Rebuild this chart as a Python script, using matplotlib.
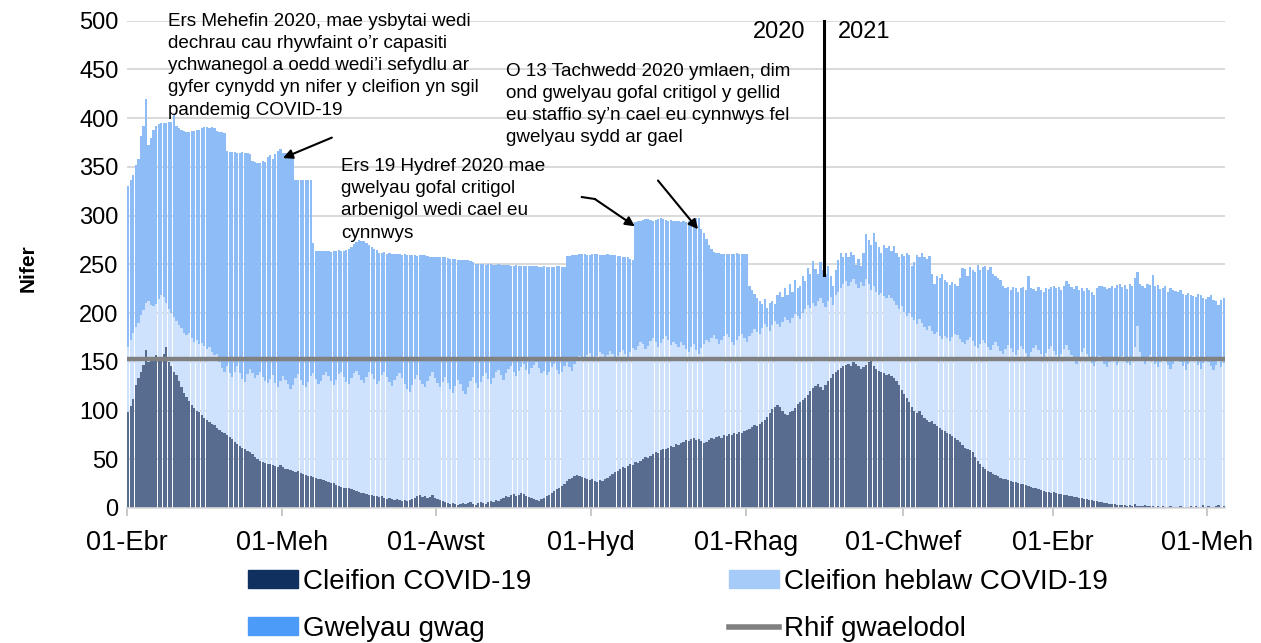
import numpy as np
import pandas as pd
import matplotlib
matplotlib.use('Agg')
import matplotlib.pyplot as plt
from matplotlib.patches import Patch
from matplotlib.lines import Line2D

plt.rcParams['font.family'] = ['Liberation Sans', 'DejaVu Sans']

start = pd.Timestamp('2020-04-01')

# daily values from 01-Apr-2020 to 07-Jun-2021, one row per week
covid = [
    98, 105, 112, 126, 133, 140, 147,
    162, 150, 152, 155, 157, 153, 151,
    158, 165, 150, 146, 140, 136, 130,
    124, 118, 114, 110, 106, 103, 100,
    98, 95, 92, 90, 88, 86, 85,
    82, 80, 78, 77, 75, 73, 71,
    68, 66, 64, 62, 60, 58, 57,
    55, 52, 50, 48, 47, 46, 45,
    45, 44, 43, 42, 44, 42, 40,
    40, 39, 38, 37, 38, 36, 35,
    34, 33, 33, 32, 31, 30, 30,
    29, 28, 27, 26, 26, 24, 23,
    22, 21, 20, 20, 19, 18, 17,
    16, 15, 15, 14, 13, 13, 12,
    12, 11, 12, 10, 9, 10, 9,
    8, 9, 8, 7, 8, 7, 8,
    9, 10, 12, 13, 11, 12, 10,
    11, 13, 10, 9, 8, 7, 6,
    5, 4, 5, 4, 3, 4, 5,
    4, 5, 6, 4, 3, 5, 6,
    5, 4, 6, 7, 6, 8, 7,
    9, 10, 12, 11, 13, 14, 12,
    13, 15, 14, 12, 11, 10, 9,
    8, 7, 9, 10, 12, 13, 15,
    17, 19, 21, 23, 25, 28, 30,
    31, 33, 34, 33, 32, 31, 30,
    29, 30, 28, 27, 29, 28, 30,
    31, 33, 35, 37, 38, 40, 42,
    41, 43, 45, 44, 47, 46, 48,
    50, 52, 51, 53, 55, 57, 56,
    59, 61, 60, 62, 64, 63, 66,
    65, 67, 68, 70, 69, 71, 72,
    70, 71, 69, 67, 68, 70, 72,
    71, 73, 74, 72, 75, 74, 76,
    75, 77, 76, 78, 77, 79, 80,
    81, 83, 85, 84, 86, 88, 90,
    93, 97, 102, 104, 106, 104, 99,
    96, 95, 98, 100, 103, 107, 109,
    111, 113, 116, 120, 123, 125, 127,
    124, 121, 126, 130, 133, 137, 140,
    142, 144, 146, 147, 148, 146, 150,
    148, 146, 143, 145, 147, 150, 155,
    146, 143, 141, 139, 138, 136, 137,
    135, 133, 130, 126, 121, 117, 113,
    109, 104, 100, 97, 99, 95, 92,
    90, 88, 89, 86, 84, 82, 80,
    79, 77, 76, 74, 72, 70, 68,
    65, 62, 60, 59, 57, 52, 48,
    45, 42, 40, 38, 37, 35, 34,
    33, 31, 30, 30, 29, 28, 27,
    27, 26, 25, 25, 24, 23, 22,
    21, 20, 19, 18, 17, 16, 16,
    15, 16, 15, 14, 14, 13, 13,
    12, 12, 11, 11, 10, 10, 9,
    9, 8, 8, 7, 7, 6, 6,
    5, 5, 4, 4, 4, 3, 3,
    3, 3, 2, 3, 2, 4, 2,
    2, 2, 3, 2, 2, 2, 1,
    2, 1, 2, 1, 1, 2, 1,
    1, 1, 2, 1, 1, 1, 2,
    1, 2, 1, 1, 3, 1, 2,
    1, 1, 2, 3, 1, 2,
]

# all occupied beds (COVID + non-COVID patients)
all_patients = [
    165, 172, 180, 186, 190, 198, 203,
    210, 212, 208, 207, 209, 214, 218,
    216, 210, 204, 200, 196, 192, 188,
    185, 180, 177, 180, 174, 170, 172,
    168, 169, 166, 163, 165, 160, 157,
    158, 150, 144, 139, 146, 138, 134,
    140, 146, 138, 132, 129, 137, 143,
    138, 133, 136, 140, 134, 130, 128,
    132, 136, 128, 124, 130, 135, 131,
    127, 122, 126, 133, 137, 131, 126,
    124, 129, 135, 138, 132, 127, 130,
    136, 140, 135, 130, 126, 131, 137,
    139, 134, 129, 127, 133, 138, 141,
    136, 131, 128, 134, 139, 137, 132,
    127, 130, 136, 139, 134, 129, 125,
    131, 135, 138, 133, 127, 122, 119,
    126, 132, 136, 131, 127, 124, 130,
    135, 139, 133, 128, 124, 129, 134,
    128, 122, 118, 125, 131, 127, 120,
    117, 124, 130, 134, 128, 123, 129,
    135, 138, 132, 127, 133, 139, 142,
    136, 131, 138, 143, 146, 140, 135,
    141, 145, 148, 142, 137, 144, 147,
    150, 144, 138, 141, 136, 139, 145,
    148, 142, 137, 140, 146, 150, 145,
    141, 148, 153, 156, 154, 151, 157,
    159, 155, 152, 156, 160, 158, 154,
    157, 161, 158, 153, 156, 160, 162,
    158, 154, 160, 164, 162, 166, 170,
    168, 163, 166, 171, 174, 170, 165,
    169, 173, 176, 172, 167, 170, 168,
    165, 170, 167, 163, 160, 165, 168,
    162, 158, 164, 168, 172, 170, 174,
    177, 173, 168, 172, 176, 179, 175,
    170, 167, 172, 176, 178, 174, 170,
    176, 180, 184, 181, 178, 185, 189,
    186, 182, 188, 192, 189, 186, 191,
    196, 193, 190, 195, 199, 197, 194,
    200, 204, 208, 205, 210, 207, 212,
    215, 210, 206, 212, 216, 208, 218,
    222, 226, 230, 233, 228, 232, 235,
    230, 226, 232, 228, 235, 230, 224,
    228, 222, 218, 221, 217, 215, 219,
    215, 212, 208, 204, 207, 201, 197,
    200, 196, 193, 189, 194, 190, 186,
    183, 187, 182, 178, 181, 176, 173,
    176, 174, 171, 175, 179, 177, 173,
    170, 168, 172, 175, 171, 166, 164,
    168, 172, 169, 165, 162, 167, 170,
    166, 161, 158, 163, 167, 164, 160,
    157, 162, 166, 163, 159, 155, 160,
    164, 167, 162, 158, 154, 159, 163,
    166, 161, 157, 153, 158, 163, 167,
    162, 157, 153, 148, 155, 160, 164,
    158, 153, 149, 146, 151, 156, 152,
    148, 145, 150, 155, 151, 147, 152,
    156, 153, 149, 147, 152, 165, 187,
    160, 152, 148, 154, 157, 152, 148,
    145, 150, 154, 151, 147, 143, 148,
    152, 155, 150, 146, 142, 148, 153,
    156, 151, 147, 143, 149, 154, 150,
    146, 142, 147, 152, 145, 149,
]

# total beds available (occupied + empty)
beds_available = [
    330, 336, 342, 352, 358, 382, 392,
    420, 372, 380, 388, 392, 394, 395,
    395, 395, 396, 396, 404, 392, 390,
    388, 387, 386, 386, 387, 387, 388,
    388, 390, 391, 391, 390, 391, 390,
    387, 386, 386, 385, 366, 365, 365,
    365, 364, 364, 365, 364, 364, 363,
    356, 355, 354, 354, 356, 355, 360,
    362, 358, 363, 366, 368, 364, 364,
    363, 364, 363, 336, 336, 336, 336,
    336, 336, 336, 272, 264, 264, 264,
    264, 264, 264, 263, 264, 264, 265,
    264, 264, 265, 266, 268, 271, 273,
    275, 274, 274, 272, 270, 268, 266,
    265, 262, 262, 263, 261, 262, 261,
    261, 261, 261, 260, 261, 260, 260,
    260, 260, 259, 260, 260, 260, 259,
    258, 258, 258, 257, 257, 257, 257,
    256, 255, 255, 255, 254, 254, 254,
    254, 254, 253, 252, 250, 250, 250,
    250, 249, 250, 250, 249, 249, 250,
    249, 249, 249, 249, 248, 248, 249,
    248, 248, 248, 248, 248, 248, 248,
    248, 247, 247, 248, 247, 247, 247,
    247, 248, 248, 247, 247, 259, 259,
    260, 260, 260, 261, 261, 261, 260,
    260, 261, 261, 261, 260, 260, 260,
    261, 260, 260, 260, 259, 259, 258,
    258, 257, 255, 254, 293, 294, 294,
    295, 296, 296, 295, 294, 295, 296,
    297, 296, 295, 294, 295, 294, 294,
    294, 293, 294, 293, 294, 294, 296,
    298, 297, 286, 282, 276, 270, 266,
    263, 262, 262, 261, 261, 261, 261,
    261, 261, 262, 261, 261, 261, 261,
    228, 224, 220, 215, 212, 209, 214,
    205, 210, 212, 209, 218, 222, 216,
    226, 219, 230, 222, 234, 226, 228,
    238, 233, 246, 240, 253, 245, 240,
    252, 244, 240, 248, 238, 228, 244,
    254, 262, 258, 262, 257, 263, 260,
    249, 255, 248, 262, 281, 275, 270,
    282, 273, 268, 262, 270, 267, 269,
    264, 269, 262, 258, 261, 259, 262,
    260, 248, 252, 260, 258, 262, 257,
    255, 259, 240, 230, 238, 236, 240,
    234, 232, 229, 232, 230, 228, 236,
    246, 245, 238, 247, 244, 242, 249,
    244, 247, 248, 244, 247, 240, 238,
    236, 234, 228, 226, 227, 224, 227,
    226, 222, 226, 227, 224, 238, 226,
    225, 223, 227, 224, 222, 226, 225,
    227, 228, 226, 227, 224, 228, 233,
    230, 227, 225, 228, 224, 226, 223,
    226, 224, 222, 219, 226, 228, 228,
    227, 225, 226, 228, 226, 229, 230,
    227, 229, 225, 230, 228, 236, 242,
    230, 228, 226, 230, 229, 239, 228,
    229, 225, 226, 228, 222, 226, 224,
    223, 222, 224, 220, 219, 221, 218,
    217, 216, 220, 218, 215, 214, 216,
    218, 213, 212, 208, 213, 215,
]

baseline = 153

tick_dates = ['2020-04-01', '2020-06-01', '2020-08-01', '2020-10-01',
              '2020-12-01', '2021-02-01', '2021-04-01', '2021-06-01']
tick_labels = ['01-Ebr', '01-Meh', '01-Awst', '01-Hyd',
               '01-Rhag', '01-Chwef', '01-Ebr', '01-Meh']

series_names = ['Cleifion COVID-19', 'Cleifion heblaw COVID-19',
                'Gwelyau gwag', 'Rhif gwaelodol']

note_june = ('Ers Mehefin 2020, mae ysbytai wedi\n'
             'dechrau cau rhywfaint o\u2019r capasiti\n'
             'ychwanegol a oedd wedi\u2019i sefydlu ar\n'
             'gyfer cynydd yn nifer y cleifion yn sgil\n'
             'pandemig COVID-19')
note_oct = ('Ers 19 Hydref 2020 mae\n'
            'gwelyau gofal critigol\n'
            'arbenigol wedi cael eu\n'
            'cynnwys')
note_nov = ('O 13 Tachwedd 2020 ymlaen, dim\n'
            'ond gwelyau gofal critigol y gellid\n'
            'eu staffio sy\u2019n cael eu cynnwys fel\n'
            'gwelyau sydd ar gael')


def main():
    cov = np.array(covid)
    occ = np.array(all_patients)
    beds = np.array(beds_available)
    assert len(cov) == len(occ) == len(beds)
    non_cov = occ - cov
    empty = beds - occ
    x = np.arange(len(cov))

    bar_cols = ['#586c8f', '#cee2fd', '#8dbcf7']
    leg_cols = ['#10305f', '#a6cbf9', '#4d9bf8', '#808080']

    fig = plt.figure(figsize=(12.61, 6.43), dpi=100)
    ax = fig.add_axes([0.1007, 0.21, 0.8707, 0.7579])

    ax.bar(x, cov, width=0.88, color=bar_cols[0], linewidth=0, zorder=2)
    ax.bar(x, non_cov, width=0.88, bottom=cov, color=bar_cols[1], linewidth=0, zorder=2)
    ax.bar(x, empty, width=0.88, bottom=occ, color=bar_cols[2], linewidth=0, zorder=2)
    ax.axhline(baseline, color=leg_cols[3], lw=3.2, zorder=3)

    ax.set_xlim(-0.5, len(x) - 0.5)
    ax.set_ylim(0, 500)
    ax.set_yticks(range(0, 501, 50))
    ax.grid(axis='y', color='#d9d9d9', lw=1.4, zorder=0)
    ax.set_axisbelow(True)
    for s in ['top', 'right', 'left']:
        ax.spines[s].set_visible(False)
    ax.spines['bottom'].set_color('#d9d9d9')
    ax.spines['bottom'].set_linewidth(1.2)

    ticks = [(pd.Timestamp(d) - start).days - 0.5 for d in tick_dates]
    ax.set_xticks(ticks)
    ax.set_xticklabels(tick_labels)
    ax.tick_params(axis='y', length=0, labelsize=17, pad=6)
    ax.tick_params(axis='x', length=6, width=1.2, color='#bfbfbf', labelsize=19.5, pad=10)

    fig.text(28 / 1261, 1 - 268 / 643, 'Nifer', rotation=90, ha='center', va='center',
             fontsize=15, fontweight='bold')

    # 2020 / 2021 divider
    ny = (pd.Timestamp('2021-01-01') - start).days - 0.5
    ax.plot([ny, ny], [239, 500], color='black', lw=2.2, zorder=4, clip_on=False)
    ax.text(ny - 7.5, 488, '2020', ha='right', va='center', fontsize=17)
    ax.text(ny + 5.5, 488, '2021', ha='left', va='center', fontsize=17)

    # annotations
    arrow = dict(arrowstyle='-|>', color='black', lw=1.5, mutation_scale=14,
                 shrinkA=0, shrinkB=0)
    ax.text(15.7, 508, note_june, ha='left', va='top', fontsize=13.6, linespacing=1.40)
    ax.annotate('', xy=(61.0, 359), xytext=(80.3, 380), arrowprops=arrow)

    ax.text(83.9, 359, note_oct, ha='left', va='top', fontsize=13.6, linespacing=1.40)
    ax.plot([178.9, 184.0], [319, 317], color='black', lw=1.5, zorder=4)
    ax.annotate('', xy=(199.8, 289), xytext=(184.0, 317), arrowprops=arrow)

    ax.text(149.0, 457, note_nov, ha='left', va='top', fontsize=13.6, linespacing=1.40)
    ax.annotate('', xy=(224.7, 286), xytext=(208.9, 336), arrowprops=arrow)

    # ncol=2 fills column by column: COVID / gwag, then heblaw / gwaelodol
    handles = [Patch(color=leg_cols[0]), Patch(color=leg_cols[2]),
               Patch(color=leg_cols[1]),
               Line2D([0], [0], color=leg_cols[3], lw=4)]
    labels = [series_names[0], series_names[2], series_names[1], series_names[3]]
    fig.legend(handles, labels, ncol=2, loc='upper left',
               bbox_to_anchor=(248 / 1261, 1 - 569 / 643), frameon=False,
               fontsize=20, handlelength=1.8, handleheight=0.6, handletextpad=0.18,
               columnspacing=7.1, labelspacing=0.75, borderpad=0, borderaxespad=0)

    fig.savefig('out.png', dpi=100)


if __name__ == '__main__':
    main()
